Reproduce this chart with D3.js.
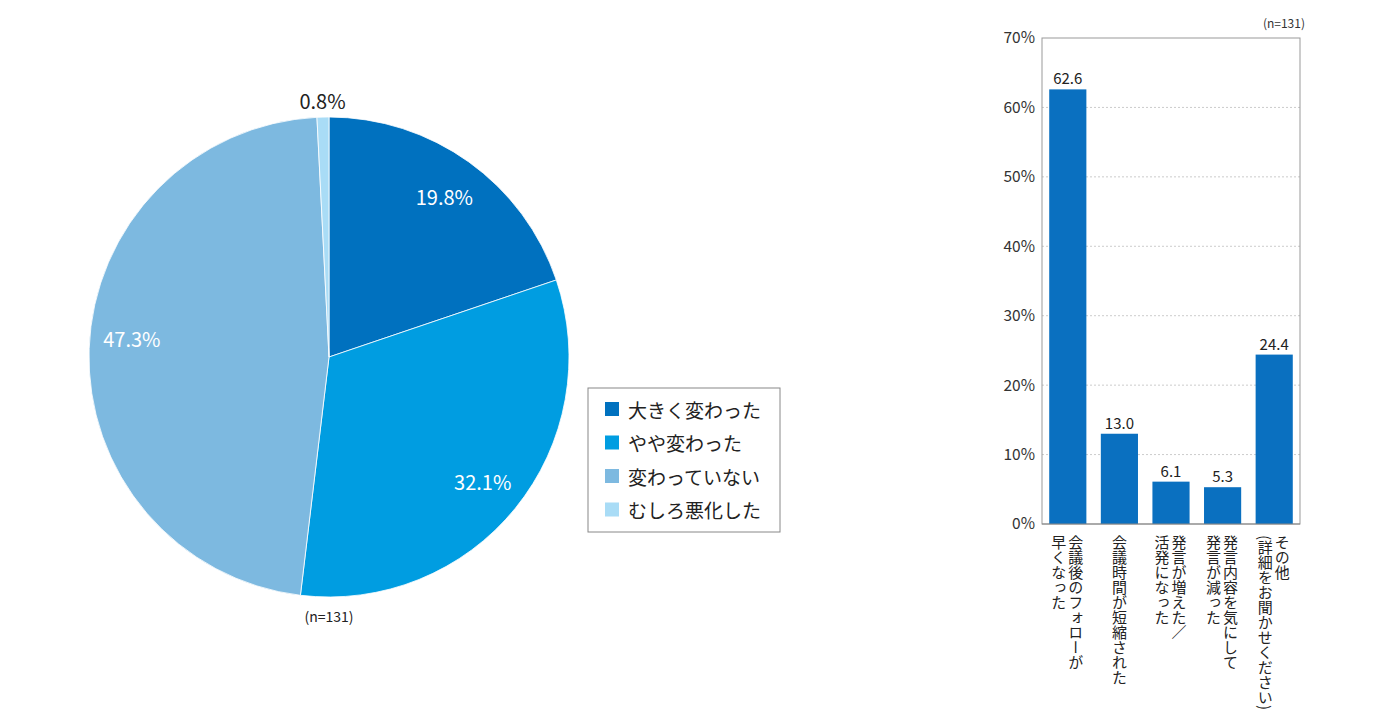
<!DOCTYPE html>
<html>
<head>
<meta charset="utf-8">
<script src="https://cdn.jsdelivr.net/npm/d3@7"></script>
<style>
  body { margin: 0; background: #fff; }
  svg { font-family: "Noto Sans CJK JP", "Noto Sans", sans-serif; }
</style>
</head>
<body>
<svg id="chart" width="1400" height="724"></svg>
<script>
// pie data
var pieLabels = ["大きく変わった", "やや変わった", "変わっていない", "むしろ悪化した"];
var pieValues = [19.8, 32.1, 47.3, 0.8];
var pieColors = ["#0071bf", "#009de1", "#7db9e0", "#a9dcf6"];

// bar data
var barLabels = [
  ["会議後のフォローが", "早くなった"],
  ["会議時間が短縮された"],
  ["発言が増えた／", "活発になった"],
  ["発言内容を気にして", "発言が減った"],
  ["その他", "(詳細をお聞かせください)"]
];
var barValues = [62.6, 13.0, 6.1, 5.3, 24.4];
var yTicks = [0, 10, 20, 30, 40, 50, 60, 70];

var svg = d3.select("#chart");

// ---- pie ----
var cx = 329, cy = 357, R = 240;
var pieG = svg.append("g").attr("transform", "translate(" + cx + "," + cy + ")");

var pie = d3.pie().sort(null).value(d => d);
var arcs = pie(pieValues);
var arc = d3.arc().innerRadius(0).outerRadius(R);
var labelArc = d3.arc().innerRadius(198).outerRadius(198);
var outArc = d3.arc().innerRadius(257).outerRadius(257);

pieG.selectAll("path")
  .data(arcs)
  .enter()
  .append("path")
  .attr("d", arc)
  .attr("fill", (d, i) => pieColors[i])
  .attr("stroke", "#fff")
  .attr("stroke-width", 0.8);

pieG.selectAll("text.pl")
  .data(arcs)
  .enter()
  .append("text")
  .attr("class", "pl")
  .attr("transform", function (d) {
    // nudge the big slice label a little toward the top, as in the original
    var a = d.data > 40 ? { startAngle: d.startAngle + 0.06, endAngle: d.endAngle + 0.06 } : d;
    return "translate(" + (d.data < 2 ? outArc : labelArc).centroid(a) + ")";
  })
  .attr("text-anchor", "middle")
  .attr("dominant-baseline", "central")
  .attr("font-size", 20)
  .attr("fill", d => d.data < 2 ? "#222" : "#fff")
  .text(d => d.data.toFixed(1) + "%");

svg.append("text")
  .attr("x", cx).attr("y", 616)
  .attr("text-anchor", "middle")
  .attr("dominant-baseline", "central")
  .attr("font-size", 14)
  .attr("fill", "#222")
  .text("(n=131)");

// legend
var lg = svg.append("g").attr("transform", "translate(588,388)");
lg.append("rect")
  .attr("width", 192).attr("height", 144)
  .attr("fill", "#fff").attr("stroke", "#888").attr("stroke-width", 1);
var items = lg.selectAll("g.item")
  .data(pieLabels)
  .enter()
  .append("g")
  .attr("class", "item")
  .attr("transform", (d, i) => "translate(17," + (21 + i * 33.5) + ")");
items.append("rect")
  .attr("x", 0).attr("y", -7).attr("width", 14).attr("height", 14)
  .attr("fill", (d, i) => pieColors[i]);
items.append("text")
  .attr("x", 23).attr("y", 0)
  .attr("dominant-baseline", "central")
  .attr("font-size", 19)
  .attr("fill", "#222")
  .text(d => d);

// ---- bar chart ----
var bx0 = 1042, bx1 = 1300, by0 = 38, by1 = 524;
var x = d3.scaleBand()
  .domain(d3.range(barValues.length))
  .range([bx0, bx1])
  .paddingInner(0.28)
  .paddingOuter(0.14);
var y = d3.scaleLinear().domain([0, 70]).range([by1, by0]);

var bar = svg.append("g");

// grid
bar.selectAll("line.grid")
  .data(yTicks.filter(t => t > 0 && t < 70))
  .enter()
  .append("line")
  .attr("x1", bx0).attr("x2", bx1)
  .attr("y1", d => y(d)).attr("y2", d => y(d))
  .attr("stroke", "#ccc")
  .attr("stroke-dasharray", "2,2");

// frame
bar.append("rect")
  .attr("x", bx0).attr("y", by0)
  .attr("width", bx1 - bx0).attr("height", by1 - by0)
  .attr("fill", "none").attr("stroke", "#999").attr("stroke-width", 1);

var yAxis = d3.axisLeft(y).tickValues(yTicks).tickFormat(d => d + "%").tickSize(0).tickPadding(7);
var ya = bar.append("g").attr("transform", "translate(" + bx0 + ",0)").call(yAxis);
ya.select(".domain").remove();
ya.selectAll("text").attr("font-size", 15.5).attr("fill", "#333")
  .attr("font-family", "'Noto Sans CJK JP', sans-serif");

bar.selectAll("rect.bar")
  .data(barValues)
  .enter()
  .append("rect")
  .attr("class", "bar")
  .attr("x", (d, i) => x(i))
  .attr("width", x.bandwidth())
  .attr("y", d => y(d))
  .attr("height", d => by1 - y(d))
  .attr("fill", "#0a70c0");

bar.selectAll("text.val")
  .data(barValues)
  .enter()
  .append("text")
  .attr("class", "val")
  .attr("x", (d, i) => x(i) + x.bandwidth() / 2)
  .attr("y", d => y(d) - 5)
  .attr("text-anchor", "middle")
  .attr("font-size", 15)
  .attr("fill", "#222")
  .text(d => d.toFixed(1));

// bottom axis line
bar.append("line")
  .attr("x1", bx0).attr("x2", bx1)
  .attr("y1", by1).attr("y2", by1)
  .attr("stroke", "#888");

// vertical category labels
barLabels.forEach(function (lines, i) {
  var c = x(i) + x.bandwidth() / 2;
  lines.forEach(function (t, j) {
    var off = lines.length === 1 ? 0 : (j === 0 ? 8 : -9);
    bar.append("text")
      .attr("x", c + off)
      .attr("y", 535)
      .attr("style", "writing-mode: vertical-rl; text-orientation: mixed;")
      .attr("font-size", 15)
      .attr("fill", "#222")
      .text(t);
  });
});

svg.append("text")
  .attr("x", 1305).attr("y", 28)
  .attr("text-anchor", "end")
  .attr("font-size", 12)
  .attr("fill", "#333")
  .text("(n=131)");
</script>
</body>
</html>
